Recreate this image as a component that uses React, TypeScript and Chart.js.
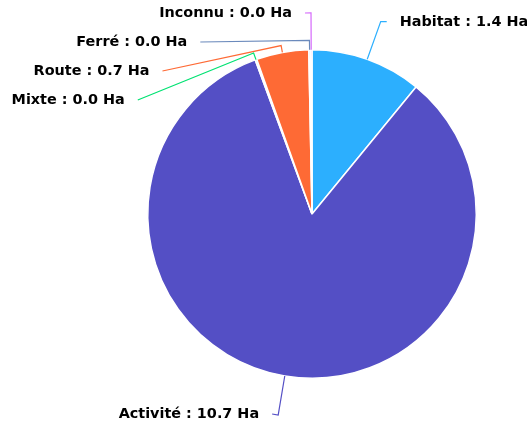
import React, { useEffect, useRef } from "react";
import { Chart, registerables } from "chart.js";

Chart.register(...registerables);

const categories = ["Habitat", "Activité", "Mixte", "Route", "Ferré", "Inconnu"];
const surfaces = [1.4, 10.7, 0.02, 0.66, 0.02, 0.02];
const sliceColors = ["#2caffe", "#544fc5", "#00e272", "#fe6a35", "#6b8abc", "#d568fb"];
const unit = "Ha";

const LABEL_FONT = 'bold 14.4px "DejaVu Sans"';

const outsideLabels = {
  id: "outsideLabels",
  afterDatasetsDraw(chart: any) {
    const meta = chart.getDatasetMeta(0);
    const ctx = chart.ctx as CanvasRenderingContext2D;
    const L1 = 40, L2 = 6, GAP = 13, SPACING = 29, MIN_RADIAL = 7;
    const H = chart.height;
    const items = meta.data.map((arc: any, i: number) => {
      const p = arc.getProps(["x", "y", "startAngle", "endAngle", "outerRadius"], true);
      const a = (p.startAngle + p.endAngle) / 2;
      const ux = Math.cos(a), uy = Math.sin(a);
      const r = p.outerRadius;
      const side = ux >= 0 ? 1 : -1;
      const bx = p.x + (r + L1) * ux, by = p.y + (r + L1) * uy;
      return {
        i, cx: p.x, cy: p.y, r, ux, uy, side,
        ex: p.x + r * ux, ey: p.y + r * uy,
        bx, by, y: by, tx: bx + side * L2, shifted: false,
      };
    });
    for (const side of [1, -1]) {
      const list = items.filter((it: any) => it.side === side).sort((a: any, b: any) => a.y - b.y);
      if (list.length < 2) continue;
      const top = 13, bottom = H - 13;
      const orig = list.map((it: any) => it.y);
      for (let k = 0; k < list.length; k++) {
        const minY = k === 0 ? top : list[k - 1].y + SPACING;
        if (list[k].y < minY) list[k].y = minY;
      }
      for (let k = list.length - 1; k >= 0; k--) {
        const maxY = k === list.length - 1 ? bottom : list[k + 1].y - SPACING;
        if (list[k].y > maxY) list[k].y = maxY;
      }
      const moved = list.some((it: any, k: number) => Math.abs(it.y - orig[k]) > 0.01);
      if (!moved) continue;
      const cx = list[0].cx, cy = list[0].cy;
      const semis = [list.filter((it: any) => it.y <= cy), list.filter((it: any) => it.y > cy)];
      for (const semi of semis) {
        let maxDy = -1, rB = 0;
        for (const it of semi) {
          const dy = Math.abs(it.y - cy);
          if (dy >= maxDy) {
            const dx = it.bx - cx;
            const rA = it.r + L1;
            rB = Math.abs(dx) < rA ? Math.sqrt((dy * dy) / (1 - (dx * dx) / (rA * rA))) : rA;
            maxDy = dy;
          }
        }
        for (const it of semi) {
          const dy = Math.abs(it.y - cy);
          const rA = it.r + L1;
          const dx = Math.sqrt(Math.max(0, 1 - (dy * dy) / (rB * rB))) * rA;
          it.tx = cx + side * (dx + L2);
          it.shifted = true;
        }
      }
    }
    ctx.save();
    ctx.font = LABEL_FONT;
    ctx.textBaseline = "middle";
    const ordered = [...items].reverse();
    for (const it of ordered) {
      let mx = it.bx, my = it.by;
      if (it.shifted) {
        const proj = (it.tx - it.ex) * it.ux + (it.y - it.ey) * it.uy;
        const t = Math.min(L1, Math.max(MIN_RADIAL, proj));
        mx = it.ex + t * it.ux;
        my = it.ey + t * it.uy;
      }
      ctx.strokeStyle = sliceColors[it.i];
      ctx.lineWidth = 1.2;
      ctx.beginPath();
      ctx.moveTo(it.ex, it.ey);
      ctx.lineTo(mx, my);
      ctx.lineTo(it.tx, it.y);
      ctx.stroke();
    }
    for (const it of items) {
      ctx.fillStyle = "#000000";
      ctx.textAlign = it.side > 0 ? "left" : "right";
      const text = `${categories[it.i]} : ${surfaces[it.i].toFixed(1)} ${unit}`;
      ctx.fillText(text, it.tx + it.side * GAP, it.y + 0.5);
    }
    ctx.restore();
  },
};

export default function App() {
  const canvasRef = useRef<HTMLCanvasElement | null>(null);
  useEffect(() => {
    if (!canvasRef.current) return;
    const chart = new Chart(canvasRef.current, {
      type: "pie",
      data: {
        labels: categories,
        datasets: [
          {
            data: surfaces,
            backgroundColor: sliceColors,
            borderColor: "#ffffff",
            borderWidth: 1.5,
          },
        ],
      },
      options: {
        responsive: false,
        animation: false,
        devicePixelRatio: 1,
        layout: { padding: { left: 147, right: 50, top: 49, bottom: 48 } },
        plugins: {
          legend: { display: false },
          tooltip: { enabled: false },
        },
      },
      plugins: [outsideLabels],
    });
    return () => chart.destroy();
  }, []);
  return (
    <div style={{ position: "absolute", left: 0, top: 0, width: 527, height: 427, background: "#ffffff" }}>
      <canvas ref={canvasRef} width={527} height={427} style={{ width: 527, height: 427 }} />
    </div>
  );
}
